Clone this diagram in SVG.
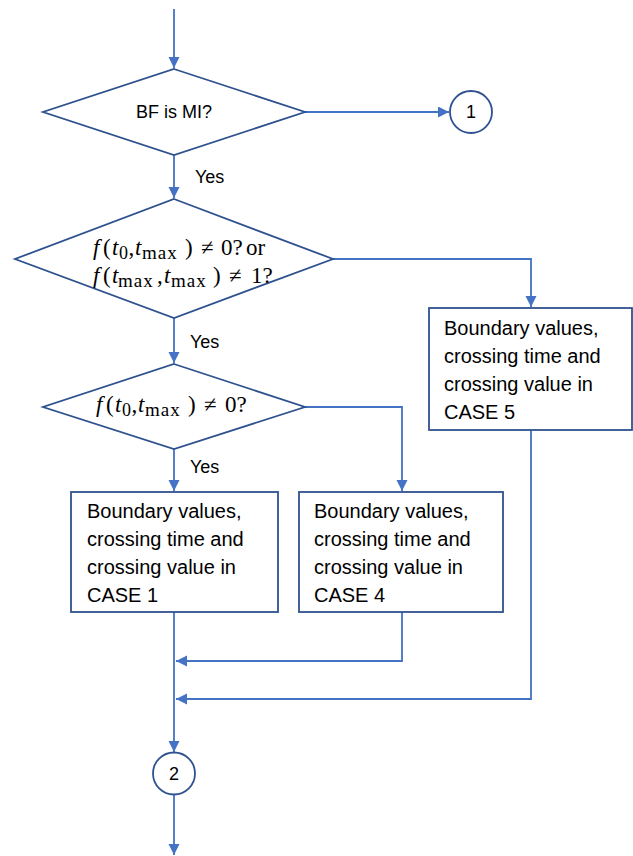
<svg xmlns="http://www.w3.org/2000/svg" width="633" height="856" viewBox="0 0 633 856">
<style>
.shape{fill:#fff;stroke:#2F528F;stroke-width:1.8}
.conn{fill:none;stroke:#4472C4;stroke-width:1.8}
.lbl{font-family:"Liberation Sans",Arial,sans-serif;font-size:18px;fill:#000}
.box{font-family:"Liberation Sans",Arial,sans-serif;font-size:20px;fill:#000}
.m{font-family:"Liberation Serif","Times New Roman",serif;font-size:23px;fill:#000}
.i{font-style:italic}
.s{font-size:18px}
.mx{font-size:19px;letter-spacing:1px}
</style>
<defs>
<marker id="ah" markerUnits="userSpaceOnUse" markerWidth="12" markerHeight="12" refX="11" refY="5.5" orient="auto">
<path d="M0,0 L11,5.5 L0,11 z" fill="#4472C4"/>
</marker>
</defs>
<g id="connectors">
<path class="conn" d="M174,9 V68" marker-end="url(#ah)"/>
<path class="conn" d="M305,112 H449" marker-end="url(#ah)"/>
<path class="conn" d="M174,155 V198" marker-end="url(#ah)"/>
<path class="conn" d="M333,259 H531 V307" marker-end="url(#ah)"/>
<path class="conn" d="M174,318 V363" marker-end="url(#ah)"/>
<path class="conn" d="M305,407 H402 V491" marker-end="url(#ah)"/>
<path class="conn" d="M174,449 V491" marker-end="url(#ah)"/>
<path class="conn" d="M174,612 V752" marker-end="url(#ah)"/>
<path class="conn" d="M402,612 V661 H176" marker-end="url(#ah)"/>
<path class="conn" d="M531,430 V699 H176" marker-end="url(#ah)"/>
<path class="conn" d="M174,794 V855" marker-end="url(#ah)"/>
<text class="lbl" x="195" y="183">Yes</text>
<text class="lbl" x="190" y="348">Yes</text>
<text class="lbl" x="190" y="473">Yes</text>
</g>
<g id="d1">
<polygon class="shape" points="174,69 305,112 174,155 43,112"/>
<text class="lbl" x="174" y="118" text-anchor="middle">BF is MI?</text>
</g>
<g id="c1">
<circle class="shape" cx="471" cy="112" r="21"/>
<text class="lbl" x="471" y="118" text-anchor="middle">1</text>
</g>
<g id="d2">
<polygon class="shape" points="174,199 333,259 174,318 15,259"/>
<text class="m" y="255"><tspan class="i" x="93">f</tspan><tspan x="103">(</tspan><tspan class="i" x="112">t</tspan><tspan class="s" x="119" dy="4">0</tspan><tspan x="128.5" dy="-4">,</tspan><tspan class="i" x="135">t</tspan><tspan class="mx" x="142" dy="4">max</tspan><tspan x="185" dy="-4">)</tspan><tspan x="201">≠</tspan><tspan x="221">0?</tspan><tspan x="246">or</tspan></text>
<text class="m" y="283"><tspan class="i" x="93">f</tspan><tspan x="103">(</tspan><tspan class="i" x="112">t</tspan><tspan class="mx" x="118" dy="4">max</tspan><tspan x="157" dy="-4">,</tspan><tspan class="i" x="164">t</tspan><tspan class="mx" x="171" dy="4">max</tspan><tspan x="213" dy="-4">)</tspan><tspan x="229">≠</tspan><tspan x="251">1?</tspan></text>
</g>
<g id="d3">
<polygon class="shape" points="174,364 305,407 174,449 43,407"/>
<text class="m" y="412"><tspan class="i" x="96">f</tspan><tspan x="106">(</tspan><tspan class="i" x="115">t</tspan><tspan class="s" x="122" dy="4">0</tspan><tspan x="131.5" dy="-4">,</tspan><tspan class="i" x="138">t</tspan><tspan class="mx" x="145" dy="4">max</tspan><tspan x="188" dy="-4">)</tspan><tspan x="204">≠</tspan><tspan x="225">0?</tspan></text>
</g>
<g id="b1">
<rect class="shape" x="71" y="492" width="207" height="120"/>
<text class="box" x="87" y="518">Boundary values,<tspan x="87" dy="28">crossing time and</tspan><tspan x="87" dy="28">crossing value in</tspan><tspan x="87" dy="28">CASE 1</tspan></text>
</g>
<g id="b2">
<rect class="shape" x="299" y="492" width="204" height="120"/>
<text class="box" x="314" y="518">Boundary values,<tspan x="314" dy="28">crossing time and</tspan><tspan x="314" dy="28">crossing value in</tspan><tspan x="314" dy="28">CASE 4</tspan></text>
</g>
<g id="b3">
<rect class="shape" x="429" y="308" width="203" height="122"/>
<text class="box" x="444" y="335">Boundary values,<tspan x="444" dy="28">crossing time and</tspan><tspan x="444" dy="28">crossing value in</tspan><tspan x="444" dy="28">CASE 5</tspan></text>
</g>
<g id="c2">
<circle class="shape" cx="174" cy="773.5" r="21"/>
<text class="lbl" x="174" y="780" text-anchor="middle">2</text>
</g>
</svg>
